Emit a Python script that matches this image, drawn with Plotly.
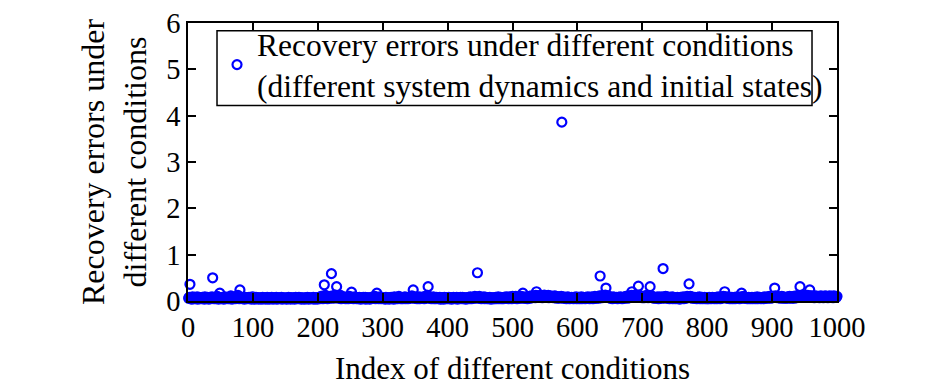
import plotly.graph_objects as go

# Recovery errors in blocks of 100 conditions
err_0001_0100 = [.06,.08,.36,.05,.07,.04,.09,.06,.05,.08,
                 .07,.05,.06,.09,.04,.07,.08,.05,.06,.07,
                 .05,.08,.06,.07,.04,.09,.06,.05,.07,.08,
                 .06,.04,.07,.08,.05,.06,.09,.50,.07,.05,
                 .08,.06,.05,.07,.10,.06,.04,.08,.17,.07,
                 .05,.06,.08,.07,.04,.06,.09,.05,.07,.06,
                 .08,.05,.06,.07,.05,.11,.06,.04,.08,.07,
                 .06,.09,.05,.07,.06,.08,.12,.06,.05,.24,
                 .07,.06,.08,.05,.07,.06,.04,.08,.06,.07,
                 .05,.07,.06,.08,.05,.06,.07,.04,.09,.06]
err_0101_0200 = [.05,.07,.04,.06,.08,.05,.06,.07,.04,.06,
                 .07,.05,.06,.04,.08,.06,.05,.07,.06,.04,
                 .06,.08,.05,.07,.04,.06,.07,.05,.08,.06,
                 .04,.06,.07,.05,.06,.08,.04,.07,.05,.06,
                 .07,.05,.06,.08,.04,.06,.05,.07,.06,.05,
                 .06,.04,.07,.05,.08,.06,.07,.04,.06,.07,
                 .05,.07,.06,.04,.06,.08,.05,.06,.07,.05,
                 .08,.06,.05,.07,.04,.06,.07,.05,.06,.04,
                 .06,.07,.05,.08,.06,.04,.07,.06,.05,.07,
                 .05,.06,.08,.04,.07,.05,.06,.07,.04,.06]
err_0201_0300 = [.06,.08,.05,.07,.10,.06,.09,.05,.11,.35,
                 .07,.12,.06,.08,.05,.09,.07,.06,.10,.08,
                 .59,.07,.11,.06,.09,.08,.13,.07,.31,.10,
                 .08,.06,.09,.07,.12,.05,.08,.06,.07,.09,
                 .06,.08,.05,.07,.06,.09,.05,.08,.10,.06,
                 .07,.19,.06,.08,.05,.07,.09,.06,.08,.05,
                 .06,.07,.05,.08,.06,.04,.07,.05,.06,.08,
                 .05,.06,.08,.04,.07,.06,.05,.07,.06,.04,
                 .07,.05,.06,.08,.09,.06,.07,.10,.05,.08,
                 .17,.06,.08,.05,.07,.09,.06,.05,.07,.06]
err_0301_0400 = [.06,.05,.07,.04,.08,.06,.05,.07,.06,.04,
                 .07,.06,.08,.05,.06,.07,.04,.09,.06,.05,
                 .08,.06,.05,.07,.10,.06,.08,.05,.07,.06,
                 .05,.07,.06,.09,.05,.08,.06,.07,.05,.06,
                 .07,.09,.06,.08,.11,.07,.24,.08,.06,.09,
                 .06,.08,.05,.07,.06,.09,.05,.08,.07,.06,
                 .08,.06,.09,.05,.07,.10,.06,.08,.12,.31,
                 .07,.09,.06,.08,.05,.07,.06,.09,.05,.07,
                 .06,.05,.08,.06,.07,.05,.06,.08,.04,.07,
                 .05,.07,.06,.04,.08,.06,.05,.07,.06,.05]
err_0401_0500 = [.06,.08,.05,.07,.06,.04,.07,.05,.08,.06,
                 .05,.07,.06,.08,.04,.06,.07,.05,.06,.08,
                 .07,.05,.08,.06,.05,.07,.06,.04,.07,.05,
                 .06,.08,.05,.07,.09,.06,.05,.08,.07,.06,
                 .08,.10,.07,.09,.06,.61,.08,.07,.10,.06,
                 .07,.05,.08,.06,.07,.09,.05,.06,.08,.07,
                 .05,.06,.07,.05,.08,.06,.04,.07,.06,.05,
                 .07,.05,.06,.08,.05,.07,.06,.09,.05,.06,
                 .06,.08,.05,.07,.06,.05,.08,.06,.07,.09,
                 .08,.06,.07,.05,.09,.06,.08,.07,.05,.10]
err_0501_0600 = [.07,.09,.06,.08,.10,.07,.05,.08,.09,.06,
                 .08,.07,.10,.06,.09,.17,.08,.06,.07,.09,
                 .06,.08,.05,.09,.07,.10,.06,.08,.11,.07,
                 .09,.11,.08,.10,.07,.12,.20,.09,.11,.08,
                 .10,.08,.12,.09,.11,.07,.10,.09,.13,.08,
                 .09,.11,.08,.10,.12,.07,.09,.11,.08,.10,
                 .08,.10,.07,.09,.11,.08,.10,.06,.09,.08,
                 .07,.09,.06,.08,.10,3.86,.07,.09,.06,.08,
                 .06,.08,.05,.07,.09,.06,.08,.05,.07,.06,
                 .08,.06,.07,.05,.08,.06,.07,.09,.05,.07]
err_0601_0700 = [.06,.08,.05,.07,.06,.09,.05,.07,.08,.06,
                 .07,.05,.08,.06,.07,.09,.06,.08,.05,.07,
                 .06,.09,.07,.05,.08,.06,.10,.07,.06,.08,
                 .07,.09,.06,.11,.54,.08,.10,.07,.12,.09,
                 .08,.10,.13,.28,.09,.11,.08,.10,.07,.09,
                 .06,.08,.07,.05,.09,.06,.08,.07,.06,.08,
                 .07,.05,.08,.06,.07,.09,.06,.08,.05,.07,
                 .08,.06,.09,.07,.10,.08,.06,.11,.09,.07,
                 .10,.08,.12,.20,.09,.11,.08,.13,.10,.09,
                 .11,.08,.10,.32,.12,.09,.11,.08,.10,.07]
err_0701_0800 = [.08,.10,.07,.09,.11,.08,.12,.09,.07,.10,
                 .09,.31,.11,.08,.10,.07,.09,.06,.08,.07,
                 .06,.08,.07,.09,.05,.08,.06,.07,.09,.06,
                 .08,.70,.07,.09,.06,.10,.08,.07,.09,.06,
                 .07,.05,.08,.06,.07,.09,.05,.08,.06,.07,
                 .05,.07,.06,.08,.05,.07,.06,.04,.08,.06,
                 .07,.06,.09,.05,.08,.07,.06,.08,.10,.07,
                 .09,.37,.08,.10,.07,.09,.06,.08,.07,.06,
                 .08,.06,.07,.05,.08,.06,.07,.09,.05,.07,
                 .06,.08,.05,.07,.06,.08,.05,.07,.06,.05]
err_0801_0900 = [.07,.05,.08,.06,.07,.05,.06,.08,.07,.06,
                 .05,.07,.06,.08,.05,.07,.09,.06,.07,.05,
                 .08,.06,.09,.07,.10,.08,.20,.09,.07,.06,
                 .07,.09,.06,.08,.05,.07,.06,.08,.05,.07,
                 .06,.08,.05,.07,.06,.09,.07,.06,.08,.05,
                 .07,.09,.17,.08,.06,.10,.07,.06,.08,.07,
                 .06,.05,.07,.08,.06,.05,.07,.06,.08,.05,
                 .07,.06,.08,.05,.07,.06,.09,.05,.07,.06,
                 .08,.06,.05,.07,.06,.08,.05,.07,.09,.06,
                 .07,.08,.06,.09,.07,.10,.08,.06,.09,.07]
err_0901_1000 = [.08,.10,.09,.28,.11,.08,.10,.07,.09,.08,
                 .07,.09,.06,.08,.10,.07,.09,.06,.08,.07,
                 .06,.08,.07,.09,.06,.08,.10,.07,.09,.06,
                 .08,.07,.10,.06,.09,.08,.11,.07,.09,.10,
                 .12,.09,.31,.11,.08,.13,.10,.09,.12,.08,
                 .10,.09,.11,.08,.12,.10,.09,.24,.11,.08,
                 .09,.11,.08,.10,.07,.09,.11,.08,.10,.09,
                 .08,.10,.07,.09,.11,.08,.10,.09,.07,.10,
                 .09,.11,.08,.10,.09,.07,.10,.08,.11,.09,
                 .08,.10,.09,.07,.11,.08,.10,.09,.08,.10]

errors = (err_0001_0100 + err_0101_0200 + err_0201_0300 + err_0301_0400 +
          err_0401_0500 + err_0501_0600 + err_0601_0700 + err_0701_0800 +
          err_0801_0900 + err_0901_1000)
indices = list(range(1, len(errors) + 1))

x_ticks = [0, 100, 200, 300, 400, 500, 600, 700, 800, 900, 1000]
y_ticks = [0, 1, 2, 3, 4, 5, 6]

legend_label = ("Recovery errors under different conditions<br>"
                "(different system dynamics and initial states)")
x_title = "Index of different conditions"
y_title = "Recovery errors under<br>different conditions"

FONT = "Liberation Serif, Times New Roman, serif"

fig = go.Figure()
fig.add_trace(go.Scatter(
    x=indices, y=errors, mode="markers", name=legend_label,
    marker=dict(symbol="circle-open", size=9, color="#0000FF",
                line=dict(width=2.2, color="#0000FF")),
    cliponaxis=False,
))

axis_common = dict(
    showline=True, linecolor="black", linewidth=1.5, mirror="ticks",
    ticks="inside", ticklen=8, tickwidth=1.5, tickcolor="black",
    showgrid=False, zeroline=False, automargin=False,
    ticklabeloverflow="allow",
    tickfont=dict(family=FONT, size=28.5, color="black"),
)

# legend frame (MATLAB style box, text slightly overflowing it)
fig.add_shape(type="rect", xref="paper", yref="paper",
              x0=0.0447, x1=0.9615, y0=0.7028, y1=0.972,
              line=dict(color="black", width=1.5), fillcolor="white",
              layer="above")

fig.update_layout(
    width=937, height=383,
    margin=dict(l=180, r=108, t=9, b=90),
    paper_bgcolor="white", plot_bgcolor="white",
    font=dict(family=FONT, size=29, color="black"),
    showlegend=True,
    legend=dict(
        x=0.0447, y=1.021, xanchor="left", yanchor="top",
        bgcolor="rgba(0,0,0,0)", borderwidth=0,
        font=dict(family=FONT, size=31.5, color="black"),
        itemsizing="trace",
    ),
    xaxis=dict(range=[0, 1000], tickvals=x_ticks, ticklabelstandoff=0,
               title=dict(text=x_title, font=dict(family=FONT, size=31), standoff=15),
               **axis_common),
    yaxis=dict(range=[0, 6], tickvals=y_ticks, ticklabelstandoff=0,
               title=dict(text=y_title, font=dict(family=FONT, size=32), standoff=10),
               **axis_common),
)

fig.write_html("out.html")
